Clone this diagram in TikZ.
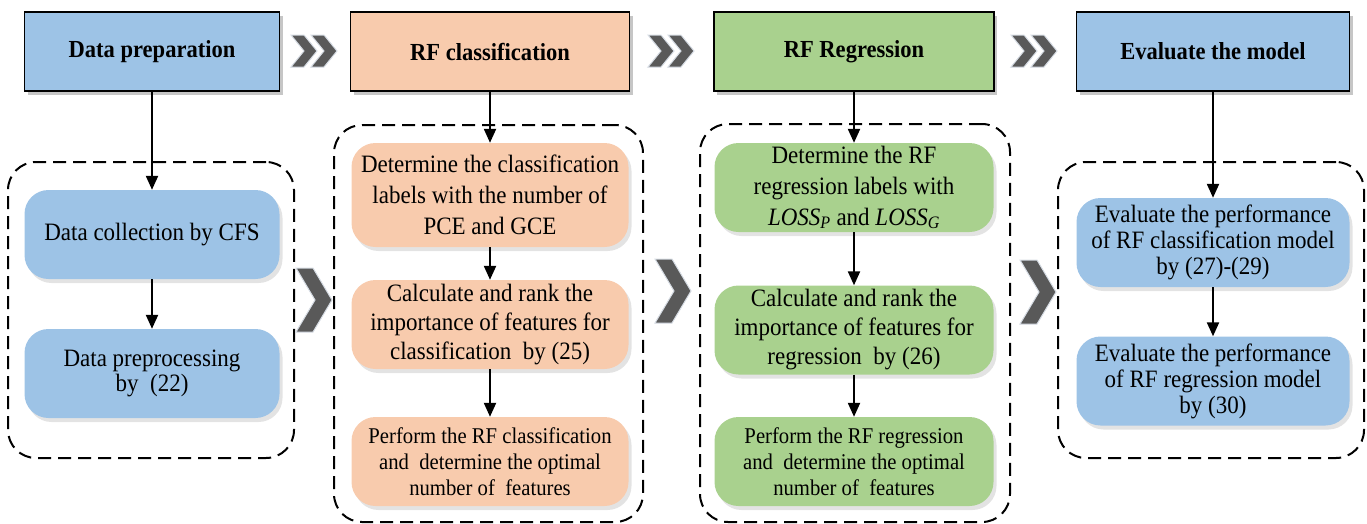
\documentclass[tikz,border=0pt]{standalone}
\usepackage{fontspec}
\setmainfont{Liberation Serif}[FakeStretch=0.92]
\usetikzlibrary{arrows.meta,shadows}
\definecolor{hblue}{HTML}{9DC3E6}
\definecolor{hpeach}{HTML}{F8CBAD}
\definecolor{hgreen}{HTML}{A9D18E}
\definecolor{chevgray}{HTML}{595959}
\definecolor{chevedge}{HTML}{D6DCE4}
\begin{document}
\begin{tikzpicture}[x=1pt,y=-1pt,
  hdr/.style={draw=black, line width=1.3pt, minimum height=79pt, inner sep=0pt,
    font=\fontsize{24.5}{30}\selectfont\bfseries,
    drop shadow={shadow xshift=3pt, shadow yshift=-4pt, opacity=0.45}},
  ibox/.style={rounded corners=24pt, minimum height=89pt, inner sep=0pt, align=center,
    font=\fontsize{25}{30}\selectfont,
    drop shadow={shadow xshift=3pt, shadow yshift=-4pt, opacity=0.22}},
  smallt/.style={font=\fontsize{22.5}{26}\selectfont},
  evalt/.style={font=\fontsize{25}{26}\selectfont},
  grp/.style={draw=black, line width=2pt, dash pattern=on 13pt off 7pt, rounded corners=28pt, inner sep=0pt},
  arr/.style={line width=2.2pt, -{Triangle[length=14pt,width=12pt]}},
  chevs/.style={fill=chevgray, draw=chevedge, line width=1pt, line join=miter}
]
\useasboundingbox (0,0) rectangle (1367,523);

% dashed groups
\node[grp, minimum width=286pt, minimum height=296pt] (grpA) at (151,310) {};
\node[grp, minimum width=309pt, minimum height=397pt] (grpB) at (488.5,323.5) {};
\node[grp, minimum width=310pt, minimum height=398pt] (grpC) at (855,323) {};
\node[grp, minimum width=306pt, minimum height=296pt] (grpD) at (1211,310) {};

% header boxes
\node[hdr, fill=hblue,  minimum width=255pt] (h1) at (152,51.5) {Data preparation};
\node[hdr, fill=hpeach, minimum width=279pt] (h2) at (490,51.5) {RF classification};
\node[hdr, fill=hgreen, minimum width=280pt] (h3) at (854,51.5) {RF Regression};
\node[hdr, fill=hblue,  minimum width=273pt] (h4) at (1213,51.5) {Evaluate the model};

% group 1
\node[ibox, fill=hblue, minimum width=255pt] (a1) at (152,234.5) {Data collection by CFS};
\node[ibox, fill=hblue, minimum width=255pt, font=\fontsize{25}{25}\selectfont] (a2) at (152,373.5) {Data preprocessing\\by~ (22)};

% group 2
\node[ibox, fill=hpeach, minimum width=277pt, minimum height=104pt, font=\fontsize{25}{31}\selectfont] (p1) at (490,195) {Determine the classification\\labels with the number of\\PCE and GCE};
\node[ibox, fill=hpeach, minimum width=277pt, font=\fontsize{25}{29}\selectfont] (p2) at (490,324.5) {Calculate and rank the\\importance of features for\\classification~ by (25)};
\node[ibox, fill=hpeach, minimum width=277pt, smallt] (p3) at (490,461.5) {Perform the RF classification\\and~ determine the optimal\\number of~ features};

% group 3
\node[ibox, fill=hgreen, minimum width=279pt, font=\fontsize{25}{31}\selectfont] (q1) at (854,187.5) {Determine the RF\\regression labels with\\\textit{LOSS}\textsubscript{\textit{P}} and \textit{LOSS}\textsubscript{\textit{G}}};
\node[ibox, fill=hgreen, minimum width=279pt, font=\fontsize{25}{29}\selectfont] (q2) at (854,330) {Calculate and rank the\\importance of features for\\regression~ by (26)};
\node[ibox, fill=hgreen, minimum width=279pt, smallt] (q3) at (854,461.5) {Perform the RF regression\\and~ determine the optimal\\number of~ features};

% group 4
\node[ibox, fill=hblue, minimum width=273pt, evalt] (e1) at (1213,242.5) {Evaluate the performance\\of RF classification model\\by (27)-(29)};
\node[ibox, fill=hblue, minimum width=273pt, evalt] (e2) at (1213,381) {Evaluate the performance\\of RF regression model\\by (30)};

% connectors
\draw[arr] (h1.south) -- (h1.south |- a1.north);
\draw[arr] (a1.south) -- (a2.north);
\draw[arr] (h2.south) -- (h2.south |- p1.north);
\draw[arr] (p1.south) -- (p2.north);
\draw[arr] (p2.south) -- (p3.north);
\draw[arr] (h3.south) -- (h3.south |- q1.north);
\draw[arr] (q1.south) -- (q2.north);
\draw[arr] (q2.south) -- (q3.north);
\draw[arr] (h4.south) -- (h4.south |- e1.north);
\draw[arr] (e1.south) -- (e2.north);

% double chevrons between headers
\foreach \sx in {291,648,1011}{
  \path[chevs, shift={(\sx,35)}] (0,0) -- (13,0) -- (26,16) -- (13,32) -- (0,32) -- (13,16) -- cycle;
  \path[chevs, shift={(\sx+20,35)}] (0,0) -- (13,0) -- (26,16) -- (13,32) -- (0,32) -- (13,16) -- cycle;
}
% single chevrons between groups
\foreach \sx/\sy in {296/268, 655/259, 1020/260}{
  \path[chevs, shift={(\sx,\sy)}] (0,0) -- (17,0) -- (36,32) -- (17,64) -- (0,64) -- (19,32) -- cycle;
}
\end{tikzpicture}
\end{document}
